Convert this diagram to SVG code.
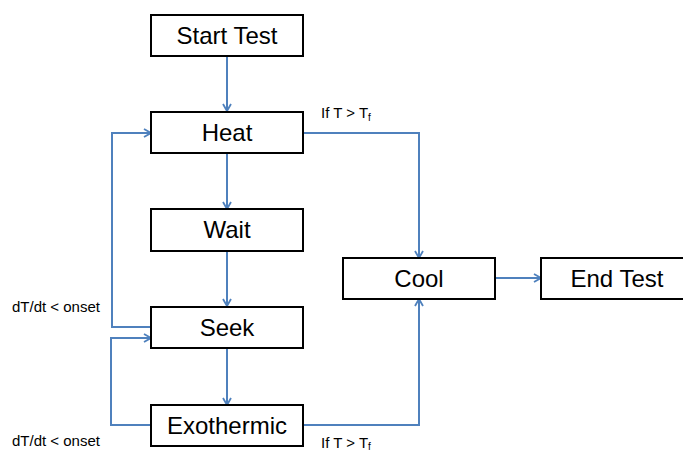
<svg xmlns="http://www.w3.org/2000/svg" width="683" height="452" viewBox="0 0 683 452">
<defs>
<marker id="arr" viewBox="0 0 10 10" refX="9" refY="5" markerWidth="10" markerHeight="10" markerUnits="userSpaceOnUse" orient="auto">
<polyline points="2,1 9,5 2,9" fill="none" stroke="#4F81BD" stroke-width="1.8"/>
</marker>
<style>
.box{fill:#fff;stroke:#000;stroke-width:2}
.bt{font-family:"Liberation Sans",Arial,sans-serif;font-size:24px;fill:#000;text-anchor:middle}
.lb{font-family:"Liberation Sans",Arial,sans-serif;font-size:15px;fill:#000}
.sub{font-size:10px}
.c{fill:none;stroke:#4F81BD;stroke-width:2;marker-end:url(#arr)}
</style>
</defs>
<rect width="683" height="452" fill="#fff"/>
<g id="connectors">
<path class="c" d="M227,56 V111"/>
<path class="c" d="M227,153 V209"/>
<path class="c" d="M227,251 V306"/>
<path class="c" d="M227,348 V405"/>
<path class="c" d="M303,133 H419 V258"/>
<path class="c" d="M303,425 H419 V299"/>
<path class="c" d="M496,278 H541"/>
<path class="c" d="M151,327 H112 V133 H151"/>
<path class="c" d="M151,425 H111 V338 H151"/>
</g>
<g id="start"><rect class="box" x="151" y="15" width="152" height="41"/><text class="bt" x="227" y="44">Start Test</text></g>
<g id="heat"><rect class="box" x="151" y="112" width="152" height="41"/><text class="bt" x="227" y="141">Heat</text></g>
<g id="wait"><rect class="box" x="151" y="209" width="152" height="42"/><text class="bt" x="227" y="238">Wait</text></g>
<g id="seek"><rect class="box" x="151" y="307" width="152" height="41"/><text class="bt" x="227" y="336">Seek</text></g>
<g id="exothermic"><rect class="box" x="151" y="405" width="152" height="41"/><text class="bt" x="227" y="434">Exothermic</text></g>
<g id="cool"><rect class="box" x="343" y="258" width="152" height="41"/><text class="bt" x="419" y="287">Cool</text></g>
<g id="end"><rect class="box" x="541" y="258" width="152" height="41"/><text class="bt" x="617" y="287">End Test</text></g>
<g id="labels">
<text class="lb" x="321" y="118">If T &gt; T<tspan class="sub" dy="3">f</tspan></text>
<text class="lb" x="321" y="448">If T &gt; T<tspan class="sub" dy="2">f</tspan></text>
<text class="lb" x="12" y="312">dT/dt &lt; onset</text>
<text class="lb" x="12" y="446">dT/dt &lt; onset</text>
</g>
</svg>
